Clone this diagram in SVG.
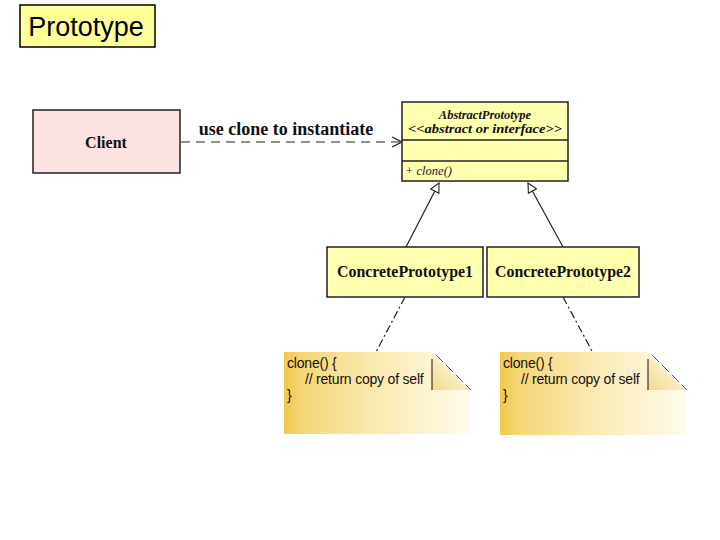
<svg xmlns="http://www.w3.org/2000/svg" width="720" height="540" viewBox="0 0 720 540">
<defs>
<style>
.box{stroke:#222;stroke-width:1.5}
.cls{fill:#FFFFB0}
.serifb{font-family:"Liberation Serif","Times New Roman",serif;font-weight:bold;fill:#111}
.note{font-family:"Liberation Sans",Arial,sans-serif;font-size:14px;fill:#111;letter-spacing:-0.2px}
.conn{stroke:#222;stroke-width:1.2;fill:none}
</style>
<linearGradient id="ng" x1="0" y1="0" x2="1" y2="0">
<stop offset="0" stop-color="#F2C84A"/>
<stop offset="0.1" stop-color="#F6D677"/>
<stop offset="0.45" stop-color="#FAE8AC"/>
<stop offset="1" stop-color="#FFFBEC"/>
</linearGradient>
<linearGradient id="fg" x1="0" y1="1" x2="1" y2="0">
<stop offset="0" stop-color="#F5DA88"/>
<stop offset="1" stop-color="#FFFFFF"/>
</linearGradient>
<marker id="open" viewBox="0 0 12 12" refX="11" refY="6" markerWidth="12" markerHeight="12" markerUnits="userSpaceOnUse" orient="auto">
<polyline points="1,1 11,6 1,11" fill="none" stroke="#222" stroke-width="1.3"/>
</marker>
<marker id="tri" viewBox="0 0 12 12" refX="11" refY="6" markerWidth="11" markerHeight="11" markerUnits="userSpaceOnUse" orient="auto">
<polygon points="1,1 11,6 1,11" fill="#fff" stroke="#222" stroke-width="1.2"/>
</marker>
</defs>
<rect width="720" height="540" fill="#fff"/>

<g id="title">
<rect x="20" y="5" width="135" height="42" fill="#FFFF99" stroke="#000" stroke-width="1.5"/>
<text x="86" y="36" text-anchor="middle" font-family="Liberation Sans,Arial,sans-serif" font-size="27" fill="#000">Prototype</text>
</g>

<g id="connectors">
<line class="conn" x1="181" y1="142" x2="402" y2="142" stroke-dasharray="9,6" marker-end="url(#open)"/>
<text class="serifb" x="286" y="135" text-anchor="middle" font-size="18">use clone to instantiate</text>
<line class="conn" x1="406" y1="247" x2="439" y2="183" marker-end="url(#tri)"/>
<line class="conn" x1="563" y1="247" x2="528" y2="183" marker-end="url(#tri)"/>
<line class="conn" x1="405" y1="297" x2="376" y2="352" stroke-dasharray="8,3,2,3"/>
<line class="conn" x1="563" y1="297" x2="592" y2="351" stroke-dasharray="8,3,2,3"/>
</g>

<g id="client">
<rect class="box" x="33" y="110" width="147" height="63" fill="#FDE2E2"/>
<text class="serifb" x="106" y="148" text-anchor="middle" font-size="16">Client</text>
</g>

<g id="abstract-prototype">
<rect class="box cls" x="402" y="102" width="166" height="79"/>
<line class="box" x1="402" y1="140" x2="568" y2="140"/>
<line class="box" x1="402" y1="161" x2="568" y2="161"/>
<text class="serifb" x="485" y="119" text-anchor="middle" font-size="12.5" font-style="italic">AbstractPrototype</text>
<text class="serifb" x="485" y="133" text-anchor="middle" font-size="12" font-style="italic" textLength="154" lengthAdjust="spacingAndGlyphs">&lt;&lt;abstract or interface&gt;&gt;</text>
<text x="405" y="175" font-family="Liberation Serif,serif" font-style="italic" font-size="12.5" fill="#222">+ clone()</text>
</g>

<g id="concrete-prototype-1">
<rect class="box cls" x="327" y="247" width="156" height="50"/>
<text class="serifb" x="405" y="277" text-anchor="middle" font-size="16" textLength="136" lengthAdjust="spacingAndGlyphs">ConcretePrototype1</text>
</g>

<g id="concrete-prototype-2">
<rect class="box cls" x="487" y="247" width="152" height="50"/>
<text class="serifb" x="563" y="277" text-anchor="middle" font-size="16" textLength="136" lengthAdjust="spacingAndGlyphs">ConcretePrototype2</text>
</g>

<g id="note-1">
<path d="M284,352 H432 V390 H470 V434 H284 Z" fill="url(#ng)"/>
<path d="M432,354 L470,390 H432 Z" fill="url(#fg)"/>
<line x1="432" y1="359" x2="432" y2="390" stroke="#444" stroke-width="1.3"/>
<line x1="436" y1="355" x2="471" y2="390" stroke="#555" stroke-width="1" stroke-dasharray="10,4"/>
<text class="note" x="287" y="368">clone() {</text>
<text class="note" x="305" y="384">// return copy of self</text>
<text class="note" x="287" y="400">}</text>
</g>

<g id="note-2">
<path d="M500,352 H648 V390 H686 V435 H500 Z" fill="url(#ng)"/>
<path d="M648,354 L686,390 H648 Z" fill="url(#fg)"/>
<line x1="648" y1="359" x2="648" y2="390" stroke="#444" stroke-width="1.3"/>
<line x1="652" y1="355" x2="687" y2="390" stroke="#555" stroke-width="1" stroke-dasharray="10,4"/>
<text class="note" x="503" y="368">clone() {</text>
<text class="note" x="521" y="384">// return copy of self</text>
<text class="note" x="503" y="400">}</text>
</g>
</svg>
